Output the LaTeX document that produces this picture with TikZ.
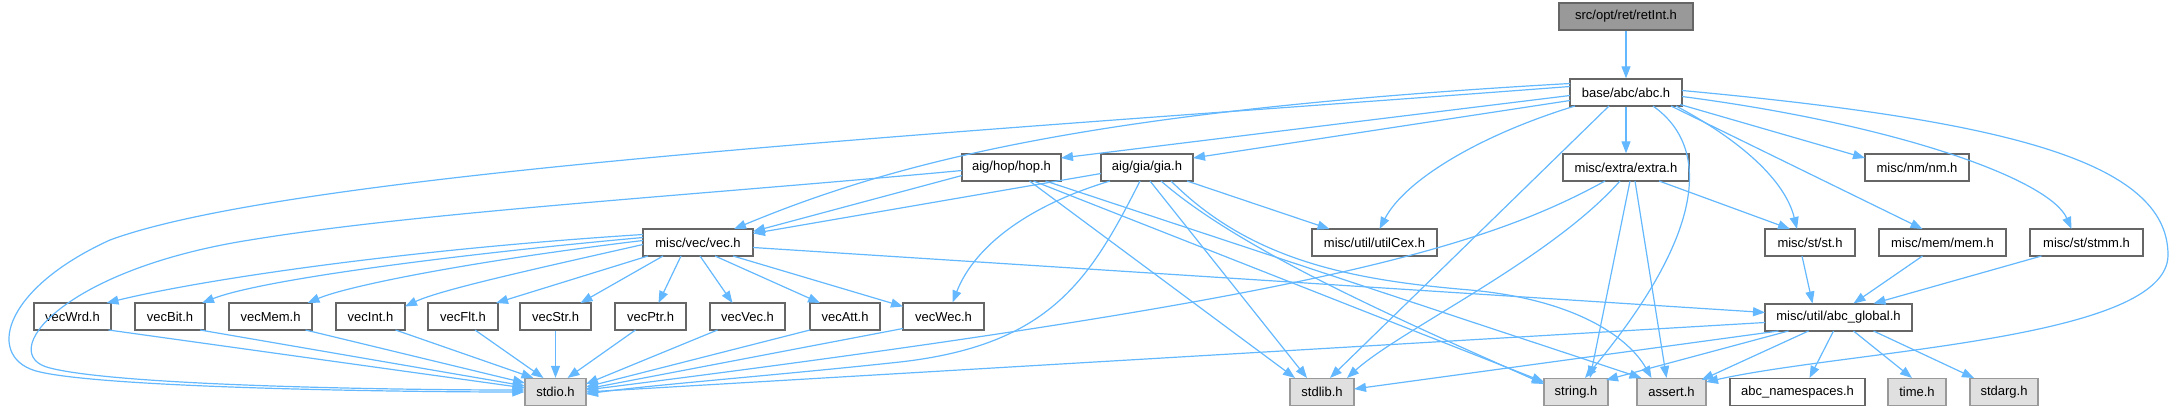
\documentclass[tikz,border=0pt]{standalone}
\usepackage{fontspec}
\setmainfont{Liberation Sans}
\usetikzlibrary{arrows.meta}
\definecolor{edgec}{HTML}{63B8FF}
\definecolor{bordc}{HTML}{666666}
\definecolor{grayf}{HTML}{E0E0E0}
\definecolor{grayb}{HTML}{999999}
\begin{document}
\begin{tikzpicture}[x=1pt,y=-1pt,
 box/.style={draw=bordc, fill=white, line width=1.3pt, minimum height=27pt, inner sep=0pt, font=\fontsize{13}{15}\selectfont, text=black},
 sysbox/.style={box, draw=grayb, fill=grayf},
 topbox/.style={box, fill=grayb},
 conn/.style={draw=edgec, line width=1.2pt, -{Triangle[length=12pt,width=9pt]}}]
\useasboundingbox (0,0) rectangle (2179,411);
% nodes
\node[topbox, minimum width=134pt] (retInt) at (1626,16.5) {src/opt/ret/retInt.h};
\node[box, minimum width=112pt] (abc) at (1626,92.5) {base/abc/abc.h};
\node[box, minimum width=99pt] (hop) at (1011.5,167.5) {aig/hop/hop.h};
\node[box, minimum width=92pt] (gia) at (1147,167.5) {aig/gia/gia.h};
\node[box, minimum width=126pt] (extra) at (1626,167.5) {misc/extra/extra.h};
\node[box, minimum width=104pt] (nm) at (1917,167.5) {misc/nm/nm.h};
\node[box, minimum width=110pt] (vec) at (698,242.5) {misc/vec/vec.h};
\node[box, minimum width=125pt] (utilCex) at (1374.5,242.5) {misc/util/utilCex.h};
\node[box, minimum width=90pt] (st) at (1810,242.5) {misc/st/st.h};
\node[box, minimum width=127pt] (mem) at (1942.5,242.5) {misc/mem/mem.h};
\node[box, minimum width=113pt] (stmm) at (2086.5,242.5) {misc/st/stmm.h};
\node[box, minimum width=77pt] (vecWrd) at (72.5,316.5) {vecWrd.h};
\node[box, minimum width=70pt] (vecBit) at (170,316.5) {vecBit.h};
\node[box, minimum width=83pt] (vecMem) at (270.5,316.5) {vecMem.h};
\node[box, minimum width=69pt] (vecInt) at (370.5,316.5) {vecInt.h};
\node[box, minimum width=70pt] (vecFlt) at (463,316.5) {vecFlt.h};
\node[box, minimum width=71pt] (vecStr) at (555.5,316.5) {vecStr.h};
\node[box, minimum width=71pt] (vecPtr) at (650.5,316.5) {vecPtr.h};
\node[box, minimum width=75pt] (vecVec) at (747.5,316.5) {vecVec.h};
\node[box, minimum width=70pt] (vecAtt) at (845,316.5) {vecAtt.h};
\node[box, minimum width=81pt] (vecWec) at (943.5,316.5) {vecWec.h};
\node[box, minimum width=147pt] (glob) at (1838.5,317.5) {misc/util/abc\_global.h};
\node[sysbox, minimum width=61pt] (stdio) at (555.5,392) {stdio.h};
\node[sysbox, minimum width=64pt] (stdlib) at (1322,392) {stdlib.h};
\node[sysbox, minimum width=64pt] (string) at (1576,392) {string.h};
\node[sysbox, minimum width=69pt] (assert) at (1671.5,392) {assert.h};
\node[box, minimum width=135pt] (ns) at (1797.5,392) {abc\_namespaces.h};
\node[sysbox, minimum width=58pt] (time) at (1917,392) {time.h};
\node[sysbox, minimum width=68pt] (stdarg) at (2004,392) {stdarg.h};
% edges
\draw[conn] (retInt.south) -- (abc.north);
% abc
\draw[conn] ([shift={(-56,-6)}]abc.center) .. controls (1000,130) and (300,170) .. (110,240) .. controls (0,290) and (-15,360) .. (40,372) .. controls (110,388) and (400,392) .. (stdio.west);
\draw[conn] ([shift={(-56,3)}]abc.center) -- ([shift={(49.5,-9.5)}]hop.center);
\draw[conn] ([shift={(-56,8)}]abc.center) -- ([shift={(46,-9.5)}]gia.center);
\draw[conn] ([shift={(-56,-9)}]abc.center) .. controls (1100,110) and (900,160) .. ([shift={(36,-13.5)}]vec.center);
\draw[conn] ([shift={(-51,13.5)}]abc.center) .. controls (1480,135) and (1405,180) .. ([shift={(5,-13.5)}]utilCex.center);
\draw[conn] ([shift={(-17,13.5)}]abc.center) -- ([shift={(8,-14)}]stdlib.center);
\draw[conn] (abc.south) -- (extra.north);
\draw[conn] ([shift={(27,13.5)}]abc.center) .. controls (1715,150) and (1700,240) .. ([shift={(9,-14)}]string.center);
\draw[conn] ([shift={(50,13.5)}]abc.center) .. controls (1740,140) and (1785,180) .. ([shift={(-13,-13.5)}]st.center);
\draw[conn] ([shift={(56,-2)}]abc.center) .. controls (2000,120) and (2168,160) .. (2168,255) .. controls (2168,340) and (1850,350) .. ([shift={(34.5,-10)}]assert.center);
\draw[conn] ([shift={(54,12)}]abc.center) -- ([shift={(-52,-9.5)}]nm.center);
\draw[conn] ([shift={(45,13.5)}]abc.center) -- ([shift={(-20,-13.5)}]mem.center);
\draw[conn] ([shift={(56,4)}]abc.center) .. controls (1900,125) and (2050,180) .. ([shift={(-15,-13.5)}]stmm.center);
% hop
\draw[conn] ([shift={(-49.5,3)}]hop.center) .. controls (700,195) and (420,212) .. (250,240) .. controls (60,270) and (-5,355) .. (50,368) .. controls (120,386) and (400,390) .. ([shift={(0,-2)}]stdio.west);
\draw[conn] ([shift={(-49.5,8)}]hop.center) -- ([shift={(55,-11)}]vec.center);
\draw[conn] ([shift={(18,13.5)}]hop.center) -- ([shift={(-27,-14)}]stdlib.center);
\draw[conn] ([shift={(22,13.5)}]hop.center) -- ([shift={(-32,-10)}]string.center);
\draw[conn] ([shift={(34,13.5)}]hop.center) -- ([shift={(-30,-14)}]assert.center);
% gia
\draw[conn] ([shift={(-46,6)}]gia.center) -- ([shift={(55,-9)}]vec.center);
\draw[conn] ([shift={(-37,13.5)}]gia.center) .. controls (1030,205) and (975,245) .. ([shift={(9,-14)}]vecWec.center);
\draw[conn] ([shift={(-7,13.5)}]gia.center) .. controls (1090,280) and (1050,345) .. (900,362) .. controls (780,375) and (650,385) .. ([shift={(30.5,2)}]stdio.center);
\draw[conn] ([shift={(3,13.5)}]gia.center) -- ([shift={(-15,-14)}]stdlib.center);
\draw[conn] ([shift={(14,13.5)}]gia.center) .. controls (1240,250) and (1400,320) .. ([shift={(-32,-8)}]string.center);
\draw[conn] ([shift={(24,13.5)}]gia.center) .. controls (1250,260) and (1350,280) .. (1470,290) .. controls (1580,300) and (1630,340) .. ([shift={(-20,-14)}]assert.center);
\draw[conn] ([shift={(40,13.5)}]gia.center) -- ([shift={(-45,-13.5)}]utilCex.center);
% extra
\draw[conn] ([shift={(33,13.5)}]extra.center) -- ([shift={(-20,-13.5)}]st.center);
\draw[conn] ([shift={(-21,13.5)}]extra.center) .. controls (1480,250) and (1300,300) .. ([shift={(30.5,-2)}]stdio.center);
\draw[conn] ([shift={(-6,13.5)}]extra.center) .. controls (1550,260) and (1400,330) .. ([shift={(25,-14)}]stdlib.center);
\draw[conn] ([shift={(4,13.5)}]extra.center) -- ([shift={(14,-14)}]string.center);
\draw[conn] ([shift={(9,13.5)}]extra.center) -- ([shift={(-5,-14)}]assert.center);
% vec
\draw[conn] ([shift={(-55,-8)}]vec.center) .. controls (400,250) and (200,280) .. ([shift={(34,-13.5)}]vecWrd.center);
\draw[conn] ([shift={(-55,-5)}]vec.center) .. controls (450,255) and (260,280) .. ([shift={(32,-13.5)}]vecBit.center);
\draw[conn] ([shift={(-55,-2)}]vec.center) .. controls (480,260) and (350,285) .. ([shift={(37,-13.5)}]vecMem.center);
\draw[conn] ([shift={(-55,2)}]vec.center) .. controls (530,270) and (440,290) .. ([shift={(34.5,-10)}]vecInt.center);
\draw[conn] ([shift={(-50,13.5)}]vec.center) -- ([shift={(33,-13.5)}]vecFlt.center);
\draw[conn] ([shift={(-35,13.5)}]vec.center) -- ([shift={(25,-13.5)}]vecStr.center);
\draw[conn] ([shift={(-17,13.5)}]vec.center) -- ([shift={(8,-13.5)}]vecPtr.center);
\draw[conn] ([shift={(2,13.5)}]vec.center) -- ([shift={(-15,-13.5)}]vecVec.center);
\draw[conn] ([shift={(17,13.5)}]vec.center) -- ([shift={(-25,-13.5)}]vecAtt.center);
\draw[conn] ([shift={(35,13.5)}]vec.center) -- ([shift={(-40.5,-10)}]vecWec.center);
\draw[conn] ([shift={(55,5)}]vec.center) -- ([shift={(-73.5,-5)}]glob.center);
% vecX -> stdio
\draw[conn] ([shift={(36,13.5)}]vecWrd.center) -- ([shift={(-30.5,-4)}]stdio.center);
\draw[conn] ([shift={(30,13.5)}]vecBit.center) -- ([shift={(-30.5,-6)}]stdio.center);
\draw[conn] ([shift={(35,13.5)}]vecMem.center) -- ([shift={(-30.5,-9)}]stdio.center);
\draw[conn] ([shift={(25,13.5)}]vecInt.center) -- ([shift={(-22,-14)}]stdio.center);
\draw[conn] ([shift={(12,13.5)}]vecFlt.center) -- ([shift={(-12,-14)}]stdio.center);
\draw[conn] (vecStr.south) -- (stdio.north);
\draw[conn] ([shift={(-15,13.5)}]vecPtr.center) -- ([shift={(12,-14)}]stdio.center);
\draw[conn] ([shift={(-30,13.5)}]vecVec.center) -- ([shift={(30.5,-8)}]stdio.center);
\draw[conn] ([shift={(-35,13.5)}]vecAtt.center) -- ([shift={(30.5,-5)}]stdio.center);
\draw[conn] ([shift={(-40.5,12)}]vecWec.center) -- ([shift={(30.5,-3)}]stdio.center);
% st, mem, stmm -> glob
\draw[conn] ([shift={(-8,13.5)}]st.center) -- ([shift={(-26,-14)}]glob.center);
\draw[conn] ([shift={(-20,13.5)}]mem.center) -- ([shift={(15,-14)}]glob.center);
\draw[conn] ([shift={(-45,13.5)}]stmm.center) -- ([shift={(35,-14)}]glob.center);
% glob
\draw[conn] ([shift={(-73.5,5)}]glob.center) -- ([shift={(30.5,0)}]stdio.center);
\draw[conn] ([shift={(-60,13.5)}]glob.center) -- ([shift={(32,-3)}]stdlib.center);
\draw[conn] ([shift={(-50,13.5)}]glob.center) -- ([shift={(30,-12)}]string.center);
\draw[conn] ([shift={(-30,13.5)}]glob.center) -- ([shift={(30,-12)}]assert.center);
\draw[conn] ([shift={(-5,13.5)}]glob.center) -- ([shift={(12,-14)}]ns.center);
\draw[conn] ([shift={(15,13.5)}]glob.center) -- ([shift={(-5,-14)}]time.center);
\draw[conn] ([shift={(35,13.5)}]glob.center) -- ([shift={(-30,-14)}]stdarg.center);
\end{tikzpicture}
\end{document}
